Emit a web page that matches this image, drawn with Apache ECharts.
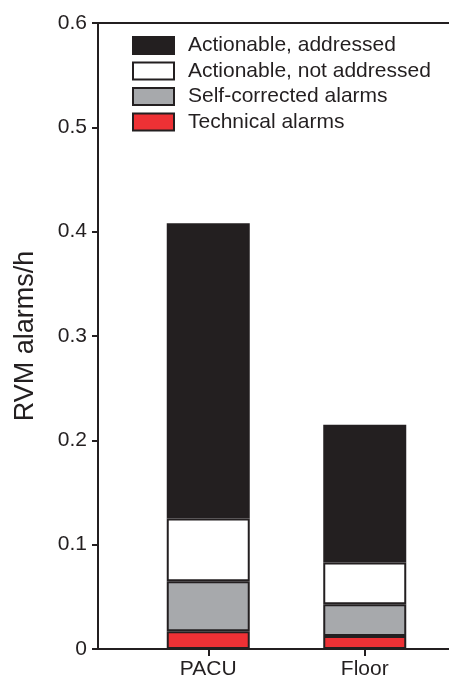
<!DOCTYPE html>
<html>
<head>
<meta charset="utf-8">
<script src="https://cdn.jsdelivr.net/npm/echarts@6/dist/echarts.min.js"></script>
<style>
html, body { margin: 0; padding: 0; background: #fff; }
#main { width: 449px; height: 681px; }
</style>
</head>
<body>
<div id="main"></div>
<script>
var categories = ['PACU', 'Floor'];
var technical = [0.017, 0.0125];
var selfCorrected = [0.048, 0.0305];
var notAddressed = [0.060, 0.040];
var addressed = [0.283, 0.132];
var yTicks = [0, 0.1, 0.2, 0.3, 0.4, 0.5, 0.6];

var ink = '#231f20';
var chart = echarts.init(document.getElementById('main'));

function barSeries(name, data, color) {
    return {
        name: name,
        type: 'bar',
        stack: 'all',
        xAxisIndex: 2,
        yAxisIndex: 1,
        barWidth: 83,
        data: data,
        itemStyle: { color: color, borderColor: ink, borderWidth: 2 }
    };
}

var option = {
    animation: false,
    textStyle: { fontFamily: 'Liberation Sans, Arial, sans-serif', color: ink },
    legend: {
        left: 132,
        top: 35,
        padding: 0,
        orient: 'vertical',
        itemWidth: 41,
        itemHeight: 17,
        itemGap: 4.5,
        selectedMode: false,
        textStyle: { fontSize: 21, color: ink, padding: [0, 0, 0, 9] },
        data: [
            { name: 'Actionable, addressed', icon: 'rect' },
            { name: 'Actionable, not addressed', icon: 'rect' },
            { name: 'Self-corrected alarms', icon: 'rect' },
            { name: 'Technical alarms', icon: 'rect' }
        ]
    },
    grid: [
        { left: 98, right: 0, top: 23, bottom: 32 },
        { left: 130, right: 6, top: 23, bottom: 32 }
    ],
    xAxis: [
        {
            gridIndex: 0, type: 'value', position: 'bottom',
            axisLine: { show: true, lineStyle: { color: ink, width: 2 } },
            axisTick: { show: false }, axisLabel: { show: false }, splitLine: { show: false }
        },
        {
            gridIndex: 0, type: 'value', position: 'top',
            axisLine: { show: true, lineStyle: { color: ink, width: 2 } },
            axisTick: { show: false }, axisLabel: { show: false }, splitLine: { show: false }
        },
        {
            gridIndex: 1, type: 'category', data: categories,
            axisLine: { show: false },
            axisTick: { show: true, alignWithLabel: true, length: 7, lineStyle: { color: ink, width: 2 } },
            axisLabel: { fontSize: 21, color: ink, margin: 10 }
        }
    ],
    yAxis: [
        {
            gridIndex: 0, type: 'value', min: 0, max: 0.6, interval: 0.1,
            name: 'RVM alarms/h', nameLocation: 'middle', nameGap: 59,
            nameTextStyle: { fontSize: 27, color: ink },
            axisLine: { show: true, lineStyle: { color: ink, width: 2 } },
            axisTick: { show: true, length: 6, lineStyle: { color: ink, width: 2 } },
            axisLabel: {
                fontSize: 21, color: ink, margin: 11,
                formatter: function (v) {
                    for (var i = 0; i < yTicks.length; i++) {
                        if (Math.abs(yTicks[i] - v) < 1e-9) return String(yTicks[i]);
                    }
                    return '';
                }
            },
            splitLine: { show: false }
        },
        {
            gridIndex: 1, type: 'value', min: 0, max: 0.6, interval: 0.1, show: false
        }
    ],
    series: [
        barSeries('Technical alarms', technical, '#ee3135'),
        barSeries('Self-corrected alarms', selfCorrected, '#a7a9ac'),
        barSeries('Actionable, not addressed', notAddressed, '#ffffff'),
        barSeries('Actionable, addressed', addressed, ink)
    ]
};

chart.setOption(option);
</script>
</body>
</html>
